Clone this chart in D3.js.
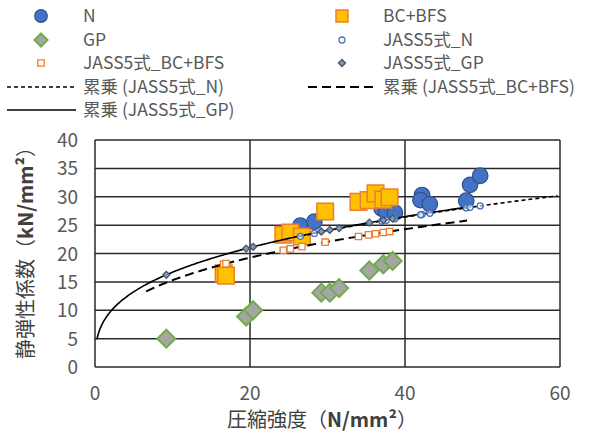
<!DOCTYPE html>
<html>
<head>
<meta charset="utf-8">
<script src="https://cdn.jsdelivr.net/npm/d3@7"></script>
<style>
  body { margin: 0; background: #fff; }
  text { font-family: "Noto Sans CJK JP", "Noto Sans", sans-serif; fill: #595959; }
</style>
</head>
<body>
<div id="chart"></div>
<script>
// measured series (compressive strength, static modulus)
const nX = [26.5, 28.3, 37.0, 37.6, 38.7, 42.2, 42.0, 43.2, 47.9, 48.4, 49.7];
const nY = [24.9, 25.6, 27.9, 27.3, 27.2, 30.3, 29.4, 28.7, 29.3, 32.1, 33.7];
const bcX = [16.6, 16.9, 24.3, 25.2, 26.7, 29.7, 34.0, 35.3, 36.2, 37.2, 38.0];
const bcY = [16.5, 16.1, 23.3, 23.7, 23.0, 27.4, 29.1, 29.4, 30.6, 29.5, 29.9];
const gpX = [9.2, 19.5, 20.4, 29.2, 30.3, 31.5, 35.4, 37.2, 38.4];
const gpY = [5.0, 8.9, 10.0, 13.1, 13.1, 13.9, 17.0, 18.1, 18.7];
// JASS5 estimates at the same strengths
const jassN = [23.03, 23.53, 25.72, 25.86, 26.11, 26.87, 26.83, 27.09, 28.03, 28.13, 28.39];
const jassBC = [18.11, 18.21, 20.57, 20.82, 21.22, 21.99, 23.00, 23.29, 23.48, 23.70, 23.87];
const jassGP = [16.24, 20.86, 21.18, 23.87, 24.16, 24.47, 25.44, 25.87, 26.14];

const xTicks = [0, 20, 40, 60];
const yTicks = [0, 5, 10, 15, 20, 25, 30, 35, 40];

const W = 596, H = 433;
const svg = d3.select("#chart").append("svg").attr("width", W).attr("height", H);

const x = d3.scaleLinear().domain([0, 60]).range([95, 560]);
const y = d3.scaleLinear().domain([0, 40]).range([367, 140]);

// grid
svg.append("g").selectAll("line").data(yTicks).join("line")
  .attr("x1", x(0)).attr("x2", x(60))
  .attr("y1", d => y(d)).attr("y2", d => y(d))
  .attr("stroke", "#2a2a2a").attr("stroke-width", 1.5);
svg.append("g").selectAll("line").data(xTicks).join("line")
  .attr("x1", d => x(d)).attr("x2", d => x(d))
  .attr("y1", y(0)).attr("y2", y(40))
  .attr("stroke", "#2a2a2a").attr("stroke-width", 1.5);

// tick labels
svg.append("g").selectAll("text").data(yTicks).join("text")
  .attr("x", 78).attr("y", d => y(d) + 7)
  .attr("text-anchor", "end").style("font-size", "19px").text(d => d);
svg.append("g").selectAll("text").data(xTicks).join("text")
  .attr("x", d => x(d)).attr("y", 400)
  .attr("text-anchor", "middle").style("font-size", "19px").text(d => d);

// axis titles
const xt = svg.append("text").attr("x", 322).attr("y", 427)
  .attr("text-anchor", "middle").style("font-size", "20px").style("fill", "#404040");
xt.append("tspan").text("圧縮強度（");
xt.append("tspan").style("font-weight", "bold").text("N/mm²");
xt.append("tspan").text("）");

const yt = svg.append("text").attr("transform", "translate(33,248) rotate(-90)")
  .attr("text-anchor", "middle").style("font-size", "20px").style("fill", "#404040");
yt.append("tspan").text("静弾性係数（");
yt.append("tspan").style("font-weight", "bold").text("kN/mm²");
yt.append("tspan").text("）");

// marker drawers
const diamond = (s) => `M0,${-s}L${s},0L0,${s}L${-s},0Z`;
const square = (s) => `M${-s},${-s}H${s}V${s}H${-s}Z`;

const styles = {
  N: g => g.append("circle").attr("r", 7.8).attr("fill", "#4472c4").attr("stroke", "#2f528f").attr("stroke-width", 1.2),
  BC: g => g.append("path").attr("d", square(8.3)).attr("fill", "#ffc000").attr("stroke", "#ed7d31").attr("stroke-width", 1.5),
  GP: g => g.append("path").attr("d", diamond(9)).attr("fill", "#a5a5a5").attr("stroke", "#70ad47").attr("stroke-width", 2),
  JN: g => g.append("circle").attr("r", 3).attr("fill", "#fff").attr("fill-opacity", 0.6).attr("stroke", "#4472c4").attr("stroke-width", 1.3),
  JBC: g => g.append("path").attr("d", square(3.2)).attr("fill", "#fff").attr("stroke", "#ed7d31").attr("stroke-width", 1.3),
  JGP: g => g.append("path").attr("d", diamond(3.5)).attr("fill", "#8497b0").attr("stroke", "#44546a").attr("stroke-width", 1.3)
};

const drawSeries = (xs, ys, key) => {
  const g = svg.append("g");
  xs.forEach((v, i) => {
    const m = g.append("g").attr("transform", `translate(${x(v)},${y(ys[i])})`);
    styles[key](m);
  });
};

drawSeries(nX, nY, "N");
drawSeries(bcX, bcY, "BC");
drawSeries(gpX, gpY, "GP");

// power trendlines fitted like Excel (ln y = ln a + b ln x)
const powerFit = (xs, ys) => {
  const lx = xs.map(Math.log), ly = ys.map(Math.log);
  const mx = d3.mean(lx), my = d3.mean(ly);
  const b = d3.sum(lx.map((v, i) => (v - mx) * (ly[i] - my))) / d3.sum(lx.map(v => (v - mx) ** 2));
  const a = Math.exp(my - b * mx);
  return t => a * Math.pow(t, b);
};
const trend = (xs, ys, back, fwd, dash, width) => {
  const f = powerFit(xs, ys);
  const x0 = Math.max(d3.min(xs) - back, 0.25), x1 = d3.max(xs) + fwd;
  const pts = d3.range(0, 201).map(i => x0 + (x1 - x0) * Math.pow(i / 200, 2));
  svg.append("path").datum(pts)
    .attr("d", d3.line().x(d => x(d)).y(d => y(f(d))))
    .attr("fill", "none").attr("stroke", "#000").attr("stroke-width", width)
    .attr("stroke-dasharray", dash);
};
trend(nX, jassN, 0, 10, "4,3", 1.6);
trend(bcX, jassBC, 10, 10, "9,5", 2);
trend(gpX, jassGP, 9, 10, null, 1.6);

drawSeries(nX, jassN, "JN");
drawSeries(bcX, jassBC, "JBC");
drawSeries(gpX, jassGP, "JGP");

// legend
const legend = [
  { key: "N", label: "N", mx: 41, tx: 83, ty: 16 },
  { key: "BC", label: "BC+BFS", mx: 342, tx: 383, ty: 16 },
  { key: "GP", label: "GP", mx: 41, tx: 83, ty: 40 },
  { key: "JN", label: "JASS5式_N", mx: 342, tx: 383, ty: 40 },
  { key: "JBC", label: "JASS5式_BC+BFS", mx: 41, tx: 83, ty: 63 },
  { key: "JGP", label: "JASS5式_GP", mx: 342, tx: 383, ty: 63 },
  { line: "4,3", w: 1.6, label: "累乗 (JASS5式_N)", lx: [7, 76], tx: 83, ty: 87 },
  { line: "9,5", w: 2, label: "累乗 (JASS5式_BC+BFS)", lx: [308, 377], tx: 383, ty: 87 },
  { line: null, w: 1.6, label: "累乗 (JASS5式_GP)", lx: [7, 76], tx: 83, ty: 110 }
];
const lg = svg.append("g");
legend.forEach(d => {
  if (d.key) {
    const m = lg.append("g").attr("transform", `translate(${d.mx},${d.ty})`);
    if (d.key === "N") m.append("circle").attr("r", 6.3).attr("fill", "#4472c4").attr("stroke", "#2f528f").attr("stroke-width", 1.2);
    else if (d.key === "BC") m.append("path").attr("d", square(6)).attr("fill", "#ffc000").attr("stroke", "#ed7d31").attr("stroke-width", 1.5);
    else if (d.key === "GP") m.append("path").attr("d", diamond(6.5)).attr("fill", "#a5a5a5").attr("stroke", "#70ad47").attr("stroke-width", 2);
    else styles[d.key](m);
  } else {
    lg.append("line").attr("x1", d.lx[0]).attr("x2", d.lx[1]).attr("y1", d.ty).attr("y2", d.ty)
      .attr("stroke", "#000").attr("stroke-width", d.w).attr("stroke-dasharray", d.line);
  }
  lg.append("text").attr("x", d.tx).attr("y", d.ty + 6).style("font-size", "17.5px").text(d.label);
});
</script>
</body>
</html>
